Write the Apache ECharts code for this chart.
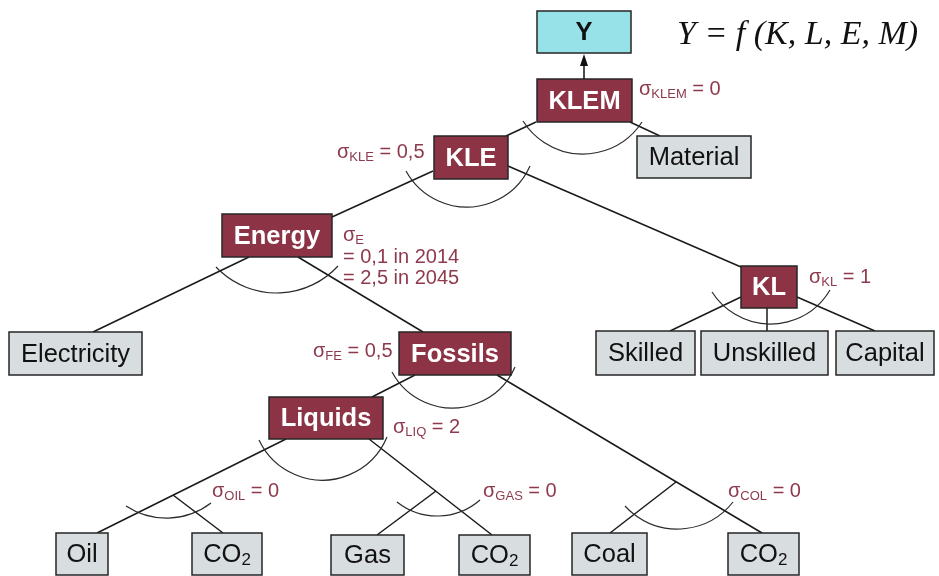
<!DOCTYPE html>
<html>
<head>
<meta charset="utf-8">
<title>KLEM nesting structure</title>
<script src="https://cdn.jsdelivr.net/npm/echarts@6/dist/echarts.min.js"></script>
<style>
  html, body { margin: 0; padding: 0; background: #fff; }
  #chart { width: 939px; height: 576px; }
</style>
</head>
<body>
<div id="chart"></div>
<script>
// nodes of the nesting tree
const nodeNames = ['Y', 'KLEM', 'Material', 'KLE', 'Energy', 'KL', 'Electricity', 'Fossils',
  'Skilled', 'Unskilled', 'Capital', 'Liquids', 'Oil', 'CO2', 'Gas', 'CO2', 'Coal', 'CO2']
const nodeKinds = ['output', 'nest', 'input', 'nest', 'nest', 'nest', 'input', 'nest',
  'input', 'input', 'input', 'nest', 'input', 'input', 'input', 'input', 'input', 'input']

// box corners in diagram units [x0, y0, x1, y1]
const nodeBoxes = [
  [537, 11, 631, 53],
  [537, 79, 632, 122],
  [637, 136, 751, 178],
  [434, 136, 508, 179],
  [222, 214, 332, 257],
  [741, 266, 797, 308],
  [9, 332, 142, 375],
  [399, 332, 511, 375],
  [596, 331, 695, 375],
  [701, 331, 828, 375],
  [836, 331, 934, 375],
  [269, 397, 383, 439],
  [56, 533, 108, 575],
  [192, 533, 262, 575],
  [331, 535, 404, 575],
  [459, 535, 530, 575],
  [572, 533, 647, 575],
  [728, 533, 799, 575]
]

// connecting lines [x0, y0, x1, y1]
const edges = [
  [536, 122, 506, 136],
  [630, 122, 660, 136],
  [433, 171, 332, 217],
  [508, 166, 741, 267],
  [249, 257, 93, 332],
  [298, 257, 423, 332],
  [741, 297, 670, 331],
  [767, 308, 767, 331],
  [797, 297, 875, 331],
  [415, 375, 372, 397],
  [497, 375, 762, 533],
  [676, 482, 610, 533],
  [286, 439, 97, 533],
  [173, 495, 223, 533],
  [369, 439, 492, 535],
  [436, 491, 377, 535]
]

// substitution arcs: left end, lowest point, right end
const arcs = [
  [523, 121, 583, 154, 642, 122],
  [406, 171, 468, 207, 530, 166],
  [216, 267, 275, 293, 338, 266],
  [712, 292, 770, 324, 830, 290],
  [392, 372, 452, 408, 515, 367],
  [259, 440, 318, 480, 387, 437],
  [126, 506, 170, 518, 211, 503],
  [397, 502, 438, 516, 480, 500],
  [625, 506, 677, 529, 733, 502]
]

// elasticities of substitution
const sigmaNames = ['KLEM', 'KLE', 'E', 'KL', 'FE', 'LIQ', 'OIL', 'GAS', 'COL']
const sigmaValues = ['= 0', '= 0,5', '\n= 0,1 in 2014\n= 2,5 in 2045', '= 1', '= 0,5', '= 2', '= 0', '= 0', '= 0']
const sigmaAnchors = [
  [639, 90], [337, 153], [343, 236], [809, 278], [313, 352],
  [393, 428], [212, 492], [483, 492], [728, 492]
]

// output arrow from KLEM up to Y [x, yFrom, yTo]
const arrows = [[584, 79, 53]]

const formulaText = 'Y = f (K, L, E, M)'

const SANS = '"Liberation Sans", Arial, sans-serif'
const MAROON = '#8c3446'
const SIGMA_COLOR = '#8e3a4d'
const FILLS = { output: '#97e2e8', nest: MAROON, input: '#d8dde0' }

function circleFrom3(a, b, c) {
  const d = 2 * (a[0] * (b[1] - c[1]) + b[0] * (c[1] - a[1]) + c[0] * (a[1] - b[1]))
  const a2 = a[0] * a[0] + a[1] * a[1]
  const b2 = b[0] * b[0] + b[1] * b[1]
  const c2 = c[0] * c[0] + c[1] * c[1]
  const ux = (a2 * (b[1] - c[1]) + b2 * (c[1] - a[1]) + c2 * (a[1] - b[1])) / d
  const uy = (a2 * (c[0] - b[0]) + b2 * (a[0] - c[0]) + c2 * (b[0] - a[0])) / d
  return { cx: ux, cy: uy, r: Math.hypot(a[0] - ux, a[1] - uy) }
}

function boxLabel(name) {
  if (name === 'CO2') return '{m|CO}{sub|2}'
  return '{m|' + name + '}'
}

function sigmaText(i) {
  const lines = sigmaValues[i].split('\n')
  let t = '{s|σ}{sub|' + sigmaNames[i] + '}'
  if (lines[0]) t += '{s| ' + lines[0] + '}'
  for (let k = 1; k < lines.length; k++) t += '\n{s|' + lines[k] + '}'
  return t
}

const chart = echarts.init(document.getElementById('chart'))

const option = {
  animation: false,
  grid: { left: 0, right: 0, top: 0, bottom: 0 },
  xAxis: { type: 'value', min: 0, max: 939, show: false },
  yAxis: { type: 'value', min: 0, max: 576, inverse: true, show: false },
  graphic: [
    {
      type: 'text',
      x: 677,
      y: 35,
      style: {
        text: formulaText,
        font: 'italic 34px "Liberation Serif", "Times New Roman", serif',
        fill: '#111',
        verticalAlign: 'middle'
      }
    }
  ],
  series: [
    {
      type: 'custom',
      name: 'edges',
      z: 1,
      silent: true,
      data: edges,
      renderItem(params, api) {
        const p0 = api.coord([api.value(0), api.value(1)])
        const p1 = api.coord([api.value(2), api.value(3)])
        return {
          type: 'line',
          shape: { x1: p0[0], y1: p0[1], x2: p1[0], y2: p1[1] },
          style: { stroke: '#1a1a1a', lineWidth: 1.5 }
        }
      }
    },
    {
      type: 'custom',
      name: 'arcs',
      z: 2,
      silent: true,
      data: arcs,
      renderItem(params, api) {
        const l = api.coord([api.value(0), api.value(1)])
        const b = api.coord([api.value(2), api.value(3)])
        const r = api.coord([api.value(4), api.value(5)])
        const c = circleFrom3(l, b, r)
        return {
          type: 'arc',
          shape: {
            cx: c.cx,
            cy: c.cy,
            r: c.r,
            startAngle: Math.atan2(r[1] - c.cy, r[0] - c.cx),
            endAngle: Math.atan2(l[1] - c.cy, l[0] - c.cx),
            clockwise: true
          },
          style: { stroke: '#2a2a2a', lineWidth: 1.2, fill: null }
        }
      }
    },
    {
      type: 'custom',
      name: 'arrow',
      z: 2,
      silent: true,
      data: arrows,
      renderItem(params, api) {
        const from = api.coord([api.value(0), api.value(1)])
        const to = api.coord([api.value(0), api.value(2)])
        return {
          type: 'group',
          children: [
            {
              type: 'line',
              shape: { x1: from[0], y1: from[1], x2: to[0], y2: to[1] + 8 },
              style: { stroke: '#111', lineWidth: 1.5 }
            },
            {
              type: 'polygon',
              shape: { points: [[to[0], to[1] + 1], [to[0] - 4, to[1] + 13], [to[0] + 4, to[1] + 13]] },
              style: { fill: '#111' }
            }
          ]
        }
      }
    },
    {
      type: 'custom',
      name: 'boxes',
      z: 3,
      silent: true,
      data: nodeBoxes,
      renderItem(params, api) {
        const i = params.dataIndex
        const kind = nodeKinds[i]
        const p0 = api.coord([api.value(0), api.value(1)])
        const p1 = api.coord([api.value(2), api.value(3)])
        const bold = kind !== 'input'
        const color = kind === 'nest' ? '#fff' : '#111'
        return {
          type: 'group',
          children: [
            {
              type: 'rect',
              shape: { x: p0[0], y: p0[1], width: p1[0] - p0[0], height: p1[1] - p0[1] },
              style: { fill: FILLS[kind], stroke: '#262626', lineWidth: 1.5 }
            },
            {
              type: 'text',
              x: (p0[0] + p1[0]) / 2,
              y: (p0[1] + p1[1]) / 2 + 1,
              style: {
                text: boxLabel(nodeNames[i]),
                align: 'center',
                verticalAlign: 'middle',
                rich: {
                  m: { fontSize: 25.5, fontFamily: SANS, fontWeight: bold ? 'bold' : 'normal', fill: color, lineHeight: 28 },
                  sub: { fontSize: 17, fontFamily: SANS, fill: color, lineHeight: 6, verticalAlign: 'bottom' }
                }
              }
            }
          ]
        }
      }
    },
    {
      type: 'custom',
      name: 'sigmas',
      z: 4,
      silent: true,
      data: sigmaAnchors,
      renderItem(params, api) {
        const i = params.dataIndex
        const p = api.coord([api.value(0), api.value(1)])
        return {
          type: 'text',
          x: p[0],
          y: p[1] - 11,
          style: {
            text: sigmaText(i),
            align: 'left',
            verticalAlign: 'top',
            rich: {
              s: { fontSize: 20, fontFamily: SANS, fill: SIGMA_COLOR, lineHeight: 21.5 },
              sub: { fontSize: 13, fontFamily: SANS, fill: SIGMA_COLOR, lineHeight: 7, verticalAlign: 'bottom' }
            }
          }
        }
      }
    }
  ]
}

chart.setOption(option)
window.addEventListener('resize', () => chart.resize())
</script>
</body>
</html>
